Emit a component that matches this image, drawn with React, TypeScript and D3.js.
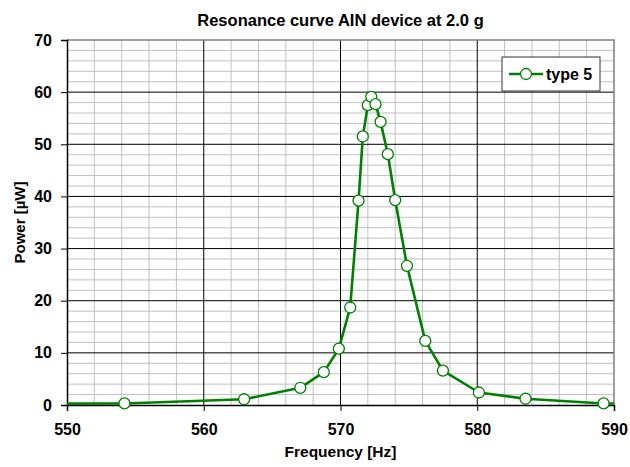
import { useEffect, useRef } from "react";
import * as d3 from "d3";

// measured resonance points (Hz, µW); first/last lie outside the axis and get clipped
const frequency = [
  545, 554.2, 562.95, 567.06, 568.78, 569.88, 570.71, 571.32, 571.63, 572.0,
  572.25, 572.56, 572.93, 573.46, 574.0, 574.86, 576.2, 577.49, 580.12,
  583.53, 589.24, 595,
];
const power = [
  0.2, 0.3, 1.1, 3.3, 6.3, 10.8, 18.7, 39.2, 51.5, 57.5, 59.1, 57.7, 54.3,
  48.1, 39.3, 26.7, 12.3, 6.6, 2.4, 1.2, 0.3, 0.2,
];
const xTicks = [550, 560, 570, 580, 590];
const yTicks = [0, 10, 20, 30, 40, 50, 60, 70];
const seriesName = "type 5";

const App = () => {
  const ref = useRef<SVGSVGElement>(null);

  useEffect(() => {
    const svg = d3.select(ref.current);
    svg.selectAll("*").remove();

    const width = 630;
    const height = 467;
    const left = 67;
    const right = 614;
    const top = 40;
    const bottom = 405;
    const font = "'Liberation Sans', Arial, sans-serif";

    const x = d3.scaleLinear().domain([550, 590]).range([left, right]);
    const y = d3.scaleLinear().domain([0, 70]).range([bottom, top]);

    svg.attr("width", width).attr("height", height);

    svg
      .append("rect")
      .attr("width", width)
      .attr("height", height)
      .attr("fill", "#fff");

    // minor grid (every 2 units)
    const grid = svg.append("g");
    d3.range(552, 590, 2)
      .filter((v) => v % 10 !== 0)
      .forEach((v) => {
        grid
          .append("line")
          .attr("x1", x(v))
          .attr("x2", x(v))
          .attr("y1", top)
          .attr("y2", bottom)
          .attr("stroke", "#c0c0c0")
          .attr("stroke-width", 1);
      });
    d3.range(2, 70, 2)
      .filter((v) => v % 10 !== 0)
      .forEach((v) => {
        grid
          .append("line")
          .attr("x1", left)
          .attr("x2", right)
          .attr("y1", y(v))
          .attr("y2", y(v))
          .attr("stroke", "#c0c0c0")
          .attr("stroke-width", 1);
      });

    // major grid
    xTicks.slice(1, -1).forEach((v) => {
      grid
        .append("line")
        .attr("x1", x(v))
        .attr("x2", x(v))
        .attr("y1", top)
        .attr("y2", bottom)
        .attr("stroke", "#000")
        .attr("stroke-width", 1);
    });
    yTicks.slice(1, -1).forEach((v) => {
      grid
        .append("line")
        .attr("x1", left)
        .attr("x2", right)
        .attr("y1", y(v))
        .attr("y2", y(v))
        .attr("stroke", "#000")
        .attr("stroke-width", 1);
    });

    // plot border top/right
    svg
      .append("path")
      .attr("d", `M${left},${top}H${right}V${bottom}`)
      .attr("fill", "none")
      .attr("stroke", "#808080")
      .attr("stroke-width", 1.5);

    // axes
    const xAxis = svg
      .append("g")
      .attr("transform", `translate(0,${bottom})`)
      .call(d3.axisBottom(x).tickValues(xTicks).tickSize(6).tickPadding(13));
    const yAxis = svg
      .append("g")
      .attr("transform", `translate(${left},0)`)
      .call(d3.axisLeft(y).tickValues(yTicks).tickSize(6).tickPadding(9));

    [xAxis, yAxis].forEach((a) => {
      a.select(".domain").attr("stroke", "#000").attr("stroke-width", 1.5);
      a.selectAll(".tick line").attr("stroke", "#000");
      a.selectAll("text")
        .attr("font-family", font)
        .attr("font-size", 16)
        .attr("font-weight", "bold")
        .attr("fill", "#000");
    });

    // series line
    svg
      .append("clipPath")
      .attr("id", "plot-clip")
      .append("rect")
      .attr("x", left)
      .attr("y", top - 10)
      .attr("width", right - left)
      .attr("height", bottom - top + 20);

    const pts = frequency.map((f, i) => [f, power[i]] as [number, number]);
    const line = d3
      .line<[number, number]>()
      .x((d) => x(d[0]))
      .y((d) => y(d[1]));

    svg
      .append("path")
      .datum(pts)
      .attr("clip-path", "url(#plot-clip)")
      .attr("d", line)
      .attr("fill", "none")
      .attr("stroke", "#008000")
      .attr("stroke-width", 2.6)
      .attr("stroke-linejoin", "round");

    svg
      .append("g")
      .selectAll("circle")
      .data(pts.filter((d) => d[0] >= 550 && d[0] <= 590))
      .join("circle")
      .attr("cx", (d) => x(d[0]))
      .attr("cy", (d) => y(d[1]))
      .attr("r", 5.5)
      .attr("fill", "#fff")
      .attr("stroke", "#008000")
      .attr("stroke-width", 1.3);

    // legend
    const lg = svg.append("g").attr("transform", "translate(502,57)");
    lg.append("rect")
      .attr("width", 98)
      .attr("height", 34)
      .attr("fill", "#fff")
      .attr("stroke", "#333")
      .attr("stroke-width", 1);
    lg.append("line")
      .attr("x1", 7)
      .attr("x2", 41)
      .attr("y1", 17)
      .attr("y2", 17)
      .attr("stroke", "#008000")
      .attr("stroke-width", 2.6);
    lg.append("circle")
      .attr("cx", 24)
      .attr("cy", 17)
      .attr("r", 5.5)
      .attr("fill", "#fff")
      .attr("stroke", "#008000")
      .attr("stroke-width", 1.3);
    lg.append("text")
      .attr("x", 44)
      .attr("y", 23)
      .attr("font-family", font)
      .attr("font-size", 16)
      .attr("font-weight", "bold")
      .text(seriesName);

    // titles
    svg
      .append("text")
      .attr("x", (left + right) / 2)
      .attr("y", 25.5)
      .attr("text-anchor", "middle")
      .attr("font-family", font)
      .attr("font-size", 16.5)
      .attr("font-weight", "bold")
      .text("Resonance curve AIN device at 2.0 g");

    svg
      .append("text")
      .attr("x", (left + right) / 2)
      .attr("y", 457)
      .attr("text-anchor", "middle")
      .attr("font-family", font)
      .attr("font-size", 15.5)
      .attr("font-weight", "bold")
      .text("Frequency [Hz]");

    svg
      .append("text")
      .attr("transform", `translate(25,${(top + bottom) / 2}) rotate(-90)`)
      .attr("text-anchor", "middle")
      .attr("font-family", font)
      .attr("font-size", 15)
      .attr("font-weight", "bold")
      .text("Power [µW]");
  }, []);

  return <svg ref={ref} style={{ position: "absolute", left: 0, top: 0 }}></svg>;
};

export default App;
